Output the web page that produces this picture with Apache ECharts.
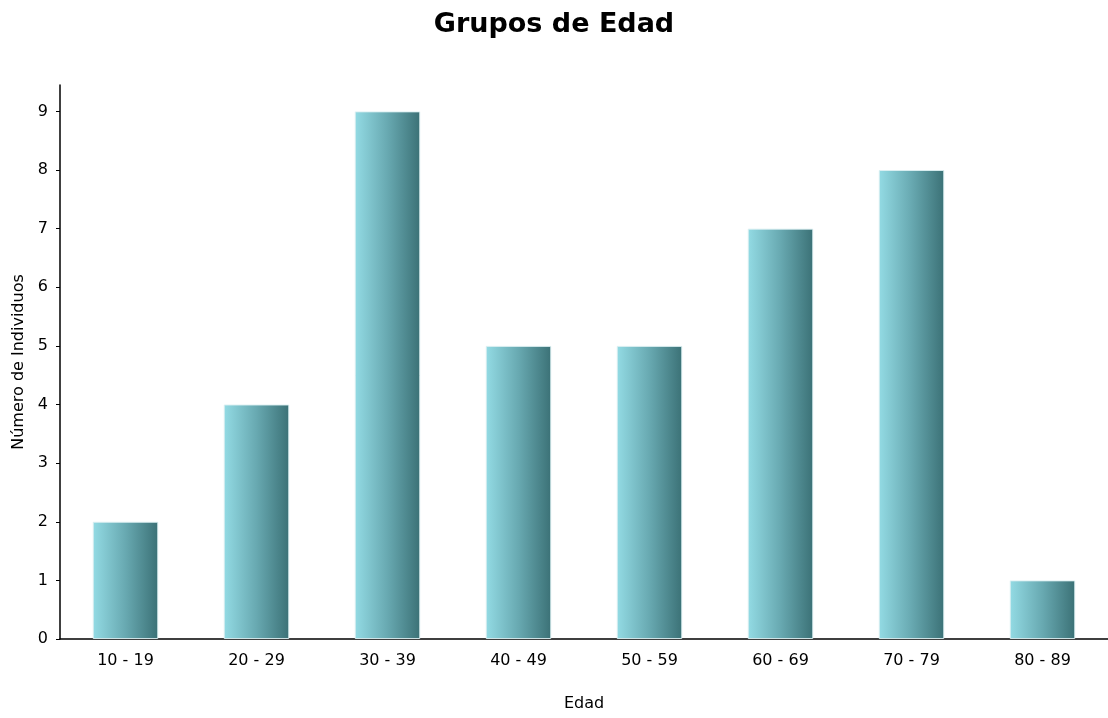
<!DOCTYPE html>
<html>
<head>
<meta charset="utf-8">
<script src="https://cdn.jsdelivr.net/npm/echarts@6/dist/echarts.min.js"></script>
<style>
  html, body { margin: 0; padding: 0; background: #fff; }
  #chart { width: 1108px; height: 718px; }
</style>
</head>
<body>
<div id="chart"></div>
<script>
// Age groups and number of individuals in each
const categories = ['10 - 19', '20 - 29', '30 - 39', '40 - 49', '50 - 59', '60 - 69', '70 - 79', '80 - 89'];
const counts = [2, 4, 9, 5, 5, 7, 8, 1];
const yTicks = [0, 1, 2, 3, 4, 5, 6, 7, 8, 9];

const font = '"DejaVu Sans", Verdana, sans-serif';

const chart = echarts.init(document.getElementById('chart'), null, { renderer: 'canvas' });

chart.setOption({
  animation: false,
  backgroundColor: '#ffffff',
  title: {
    text: 'Grupos de Edad',
    left: 'center',
    top: 6,
    textStyle: { fontFamily: font, fontSize: 27, fontWeight: 'bold', color: '#000' }
  },
  grid: { left: 60, right: 0, top: 85, bottom: 79, containLabel: false },
  xAxis: {
    type: 'category',
    data: categories,
    name: 'Edad',
    nameLocation: 'middle',
    nameGap: 57,
    nameTextStyle: { fontFamily: font, fontSize: 16, color: '#000' },
    axisLine: { lineStyle: { color: '#000', width: 1.5 } },
    axisTick: { alignWithLabel: true, length: 6, lineStyle: { color: '#000' } },
    axisLabel: { fontFamily: font, fontSize: 16, color: '#000', margin: 14 }
  },
  yAxis: {
    type: 'value',
    min: 0,
    max: 9.45,
    interval: 1,
    name: 'Número de Individuos',
    nameLocation: 'middle',
    nameGap: 32,
    nameRotate: 90,
    nameTextStyle: { fontFamily: font, fontSize: 16, color: '#000' },
    axisLine: { show: true, lineStyle: { color: '#000', width: 1.5 } },
    axisTick: { show: true, length: 4, customValues: yTicks, lineStyle: { color: '#000' } },
    axisLabel: { fontFamily: font, fontSize: 16, color: '#000', margin: 12, customValues: yTicks },
    splitLine: { show: false }
  },
  series: [{
    type: 'bar',
    data: counts,
    barWidth: '50%',
    itemStyle: {
      color: new echarts.graphic.LinearGradient(0, 0, 1, 0, [
        { offset: 0, color: '#93dbe4' },
        { offset: 0.5, color: '#68a9b1' },
        { offset: 1, color: '#3b7176' }
      ]),
      borderColor: 'rgba(220,240,242,0.9)',
      borderWidth: 1
    }
  }]
});
</script>
</body>
</html>
